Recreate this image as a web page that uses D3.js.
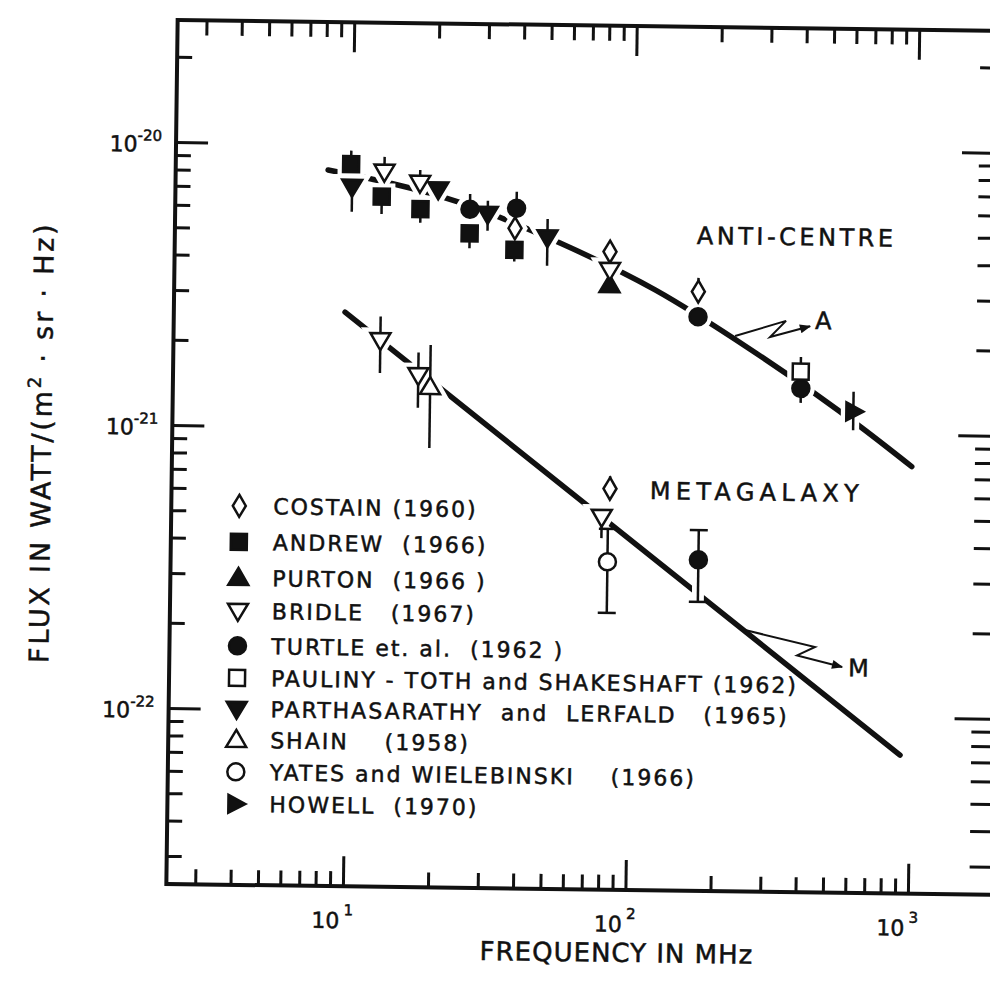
<!DOCTYPE html>
<meta charset="utf-8">
<style>
    body { margin: 0; background: #fff; }
    svg { display: block; }
    text { font-family: "DejaVu Sans", sans-serif; fill: #111; stroke: #111; stroke-width: 0.5px; }
    .axis line { stroke: #111; stroke-width: 3px; }
    .frame { fill: none; stroke: #111; stroke-width: 4px; }
    .curve { fill: none; stroke: #111; stroke-width: 5.5px; stroke-linecap: round; }
    .bar { stroke: #111; stroke-width: 2.5px; }
    .halo { stroke: #fff; fill: #fff; }
    .pointer { fill: none; stroke: #111; stroke-width: 2px; }
</style>
<svg width="990" height="989"></svg>
<script src="https://d3js.org/d3.v7.min.js"></script>
<script>
    // flux in W/(m^2 sr Hz) against frequency in MHz, lo / hi = ends of the error bar
    const costain = [
        { f: 37.9, s: 5.14e-21 },
        { f: 82.4, s: 4.29e-21, hi: 4.6e-21 },
        { f: 170, s: 3.13e-21, hi: 3.50e-21 },
        { f: 84.5, s: 6.24e-22, hi: 6.9e-22 }
    ];
    const andrew = [
        { f: 9.9, s: 8.51e-21, hi: 9.5e-21 },
        { f: 12.75, s: 6.55e-21, lo: 5.69e-21 },
        { f: 17.5, s: 5.95e-21, lo: 5.32e-21 },
        { f: 26.2, s: 4.91e-21, lo: 4.35e-21 },
        { f: 37.8, s: 4.31e-21, lo: 3.92e-21 }
    ];
    const purton = [
        { f: 82.4, s: 3.27e-21 }
    ];
    const bridle = [
        { f: 13.0, s: 8.03e-21, hi: 9.06e-21 },
        { f: 17.4, s: 7.37e-21, hi: 8.17e-21 },
        { f: 82.5, s: 3.70e-21 },
        { f: 12.8, s: 2.04e-21, lo: 1.56e-21, hi: 2.47e-21 },
        { f: 17.5, s: 1.54e-21, lo: 1.18e-21, hi: 1.85e-21 },
        { f: 79.2, s: 4.96e-22, lo: 4.17e-22 }
    ];
    const turtle = [
        { f: 26.2, s: 5.97e-21, hi: 6.76e-21 },
        { f: 38.3, s: 6.05e-21, hi: 6.92e-21 },
        { f: 170, s: 2.55e-21 },
        { f: 396, s: 1.44e-21, lo: 1.28e-21 },
        { f: 175, s: 3.53e-22, lo: 2.51e-22, hi: 4.50e-22 }
    ];
    const paulinyToth = [
        { f: 395, s: 1.65e-21, hi: 1.86e-21 }
    ];
    const parthasarathy = [
        { f: 10, s: 7.08e-21, lo: 5.78e-21 },
        { f: 20.2, s: 7.0e-21, hi: 7.4e-21 },
        { f: 30.3, s: 5.76e-21, lo: 5.02e-21, hi: 6.41e-21 },
        { f: 49.4, s: 4.79e-21, lo: 3.80e-21, hi: 5.56e-21 }
    ];
    const shain = [
        { f: 19.3, s: 1.40e-21, lo: 8.53e-22, hi: 1.97e-21 }
    ];
    const yates = [
        { f: 83.4, s: 3.44e-22, lo: 2.27e-22, hi: 4.5e-22 }
    ];
    const howell = [
        { f: 609, s: 1.20e-21, lo: 1.03e-21, hi: 1.41e-21 }
    ];

    // the two fitted spectra
    const antiCentreCurve = [[8.21, 8.09e-21], [23.6, 6.34e-21], [54.8, 4.58e-21], [119.5, 3.16e-21],
        [260.8, 1.97e-21], [655, 1.05e-21], [986, 7.71e-22]];
    const metagalaxyCurve = [[9.57, 2.55e-21], [924, 7.37e-23]];

    // zig-zag pointers to the curve labels
    const pointerA = [[230.4, 2.19e-21], [348.5, 2.49e-21], [306.4, 2.18e-21], [424, 2.39e-21]];
    const pointerM = [[260, 2.0e-22], [457, 1.76e-22], [395, 1.64e-22], [571, 1.50e-22]];
    const curveLabels = [
        { text: "ANTI-CENTRE", f: 167, s: 4.61e-21 },
        { text: "METAGALAXY", f: 117, s: 5.76e-22 },
        { text: "A", f: 442, s: 2.34e-21 },
        { text: "M", f: 600, s: 1.39e-22 }
    ];

    const legendLabels = [
        "COSTAIN (1960)",
        "ANDREW  (1966)",
        "PURTON  (1966 )",
        "BRIDLE   (1967)",
        "TURTLE et. al.  (1962 )",
        "PAULINY - TOTH and SHAKESHAFT (1962)",
        "PARTHASARATHY  and  LERFALD   (1965)",
        "SHAIN    (1958)",
        "YATES and WIELEBINSKI    (1966)",
        "HOWELL  (1970)"
    ];

    const xMajorTicks = [10, 100, 1000];
    const xTickExponents = ["1", "2", "3"];
    const yMajorTicks = [1e-20, 1e-21, 1e-22];
    const yTickExponents = ["-20", "-21", "-22"];

    const series = [
        { data: costain, shape: "diamond", filled: false },
        { data: andrew, shape: "square", filled: true },
        { data: purton, shape: "triUp", filled: true },
        { data: bridle, shape: "triDown", filled: false },
        { data: turtle, shape: "circle", filled: true },
        { data: paulinyToth, shape: "square", filled: false },
        { data: parthasarathy, shape: "triDown", filled: true },
        { data: shain, shape: "triUp", filled: false },
        { data: yates, shape: "circle", filled: false },
        { data: howell, shape: "triRight", filled: true }
    ];
    const cappedPoints = [yates[0], turtle[4]];

    const shapes = {
        diamond: "M0,-11L6.5,0L0,11L-6.5,0Z",
        square: "M-8,-8H8V8H-8Z",
        triUp: "M0,-10L10,7L-10,7Z",
        triDown: "M0,10L10,-7L-10,-7Z",
        triRight: "M10,0L-7,-9L-7,9Z",
        circle: "M8.5,0A8.5,8.5 0 1,1 -8.5,0A8.5,8.5 0 1,1 8.5,0Z"
    };

    var svg = d3.select("svg"),
        frame = { left: 172, right: 1000, top: 20, bottom: 884 };

    // the scanned figure sits a little askew
    var g = svg.append("g").attr("transform", "rotate(0.75,172,452)");

    var x = d3.scaleLog().domain([2.371, 2022]).range([frame.left, frame.right]),
        y = d3.scaleLog().domain([2.698e-20, 2.388e-23]).range([frame.top, frame.bottom]);

    const isMajor = (list) => (v) => list.some(m => Math.abs(v - m) / m < 1e-6);
    const xMinor = x.ticks().filter(v => !isMajor(xMajorTicks)(v));
    const yMinor = y.ticks().filter(v => !isMajor(yMajorTicks)(v));

    function axis(maker, scale, values, size, tr) {
        g.append("g")
            .attr("class", "axis")
            .attr("transform", tr)
            .call(maker(scale).tickValues(values).tickSize(-size).tickSizeOuter(0).tickFormat(""))
            .call(a => a.select(".domain").remove());
    }

    axis(d3.axisBottom, x, xMinor, 15, "translate(0," + frame.bottom + ")");
    axis(d3.axisBottom, x, xMajorTicks, 30, "translate(0," + frame.bottom + ")");
    axis(d3.axisTop, x, xMinor, 15, "translate(0," + frame.top + ")");
    axis(d3.axisTop, x, xMajorTicks, 30, "translate(0," + frame.top + ")");
    axis(d3.axisLeft, y, yMinor, 15, "translate(" + frame.left + ",0)");
    axis(d3.axisLeft, y, yMajorTicks, 32, "translate(" + frame.left + ",0)");
    axis(d3.axisRight, y, yMinor, 25, "translate(" + frame.right + ",0)");
    axis(d3.axisRight, y, yMajorTicks, 42, "translate(" + frame.right + ",0)");

    g.append("rect")
        .attr("class", "frame")
        .attr("x", frame.left).attr("y", frame.top)
        .attr("width", frame.right - frame.left).attr("height", frame.bottom - frame.top);

    // tick labels
    g.selectAll(".xlab").data(xMajorTicks).enter().append("text")
        .attr("x", d => x(d) - 3)
        .attr("y", frame.bottom + 42)
        .attr("text-anchor", "end")
        .style("font-size", "22px")
        .text("10");
    g.selectAll(".xexp").data(xMajorTicks).enter().append("text")
        .attr("x", d => x(d) + 1)
        .attr("y", frame.bottom + 29)
        .style("font-size", "15px")
        .text((d, i) => xTickExponents[i]);

    var ylab = g.selectAll(".ylab").data(yMajorTicks).enter().append("text")
        .attr("x", frame.left - 14)
        .attr("y", d => y(d) + 10)
        .attr("text-anchor", "end")
        .style("font-size", "22px");
    ylab.append("tspan").text("10");
    ylab.append("tspan").attr("dy", -11).style("font-size", "15px").text((d, i) => yTickExponents[i]);

    // axis titles
    g.append("text")
        .attr("x", 623).attr("y", 956)
        .attr("text-anchor", "middle")
        .style("font-size", "26px")
        .style("letter-spacing", "1px")
        .text("FREQUENCY IN MHz");

    var yt = g.append("text")
        .attr("transform", "translate(51,444) rotate(-90)")
        .attr("text-anchor", "middle")
        .style("font-size", "27px")
        .style("letter-spacing", "2.8px");
    yt.append("tspan").text("FLUX IN WATT/(m");
    yt.append("tspan").attr("dy", -11).style("font-size", "18px").text("2");
    yt.append("tspan").attr("dy", 11).text(" · sr · Hz)");

    // fitted curves
    var line = d3.line()
        .curve(d3.curveMonotoneX)
        .x(d => x(d[0]))
        .y(d => y(d[1]));

    g.append("path").attr("class", "curve").attr("d", line(antiCentreCurve));
    g.append("path").attr("class", "curve").attr("d", line(metagalaxyCurve));

    var points = [];
    series.forEach(sr => sr.data.forEach(d => points.push({ d: d, sr: sr })));

    // white knock-outs so the curves break round the measurements
    var halo = g.append("g");
    halo.selectAll("line").data(points.filter(p => p.d.lo || p.d.hi)).enter().append("line")
        .attr("class", "halo")
        .attr("x1", p => x(p.d.f)).attr("x2", p => x(p.d.f))
        .attr("y1", p => y(p.d.lo || p.d.s)).attr("y2", p => y(p.d.hi || p.d.s))
        .style("stroke-width", 12);
    halo.selectAll("path").data(points).enter().append("path")
        .attr("class", "halo")
        .attr("d", p => shapes[p.sr.shape])
        .attr("transform", p => "translate(" + x(p.d.f) + "," + y(p.d.s) + ")")
        .style("stroke-width", 11);

    // error bars
    var bars = g.append("g");
    bars.selectAll("line").data(points.filter(p => p.d.lo || p.d.hi)).enter().append("line")
        .attr("class", "bar")
        .attr("x1", p => x(p.d.f)).attr("x2", p => x(p.d.f))
        .attr("y1", p => y(p.d.lo || p.d.s)).attr("y2", p => y(p.d.hi || p.d.s));
    cappedPoints.forEach(d => {
        [d.lo, d.hi].forEach(v => {
            bars.append("line")
                .attr("class", "bar")
                .attr("x1", x(d.f) - 9).attr("x2", x(d.f) + 9)
                .attr("y1", y(v)).attr("y2", y(v));
        });
    });

    // markers
    g.append("g").selectAll("path").data(points).enter().append("path")
        .attr("d", p => shapes[p.sr.shape])
        .attr("transform", p => "translate(" + x(p.d.f) + "," + y(p.d.s) + ")")
        .attr("fill", p => p.sr.filled ? "#111" : "#fff")
        .attr("stroke", "#111")
        .attr("stroke-width", 2.5);

    // curve labels and pointers
    svg.append("defs").append("marker")
        .attr("id", "head")
        .attr("viewBox", "0 0 10 8")
        .attr("refX", 9).attr("refY", 4)
        .attr("markerUnits", "userSpaceOnUse")
        .attr("markerWidth", 12).attr("markerHeight", 9)
        .attr("orient", "auto")
        .append("path").attr("d", "M0,0L10,4L0,8Z").attr("fill", "#111");

    var pointer = d3.line().x(d => x(d[0])).y(d => y(d[1]));
    [pointerA, pointerM].forEach(p => {
        g.append("path").attr("class", "pointer").attr("d", pointer(p)).attr("marker-end", "url(#head)");
    });

    const labelSpacing = { "ANTI-CENTRE": 3.5, "METAGALAXY": 5.3 };
    g.selectAll(".clabel").data(curveLabels).enter().append("text")
        .attr("x", d => x(d.f))
        .attr("y", d => y(d.s))
        .style("font-size", "24px")
        .style("letter-spacing", d => (labelSpacing[d.text] || 0) + "px")
        .text(d => d.text);

    // legend, hand lettered so the rows are not quite even
    const rowY = [505, 541, 577, 610, 645, 677, 708, 739, 771, 803];
    var legend = g.append("g").selectAll("g").data(series).enter().append("g")
        .attr("transform", (d, i) => "translate(240," + rowY[i] + ")");
    legend.append("path")
        .attr("d", d => shapes[d.shape])
        .attr("fill", d => d.filled ? "#111" : "#fff")
        .attr("stroke", "#111")
        .attr("stroke-width", 2.5);
    legend.append("text")
        .attr("x", 34)
        .attr("y", 8)
        .style("font-size", "22px")
        .style("letter-spacing", "2px")
        .style("white-space", "pre")
        .text((d, i) => legendLabels[i]);
</script>
